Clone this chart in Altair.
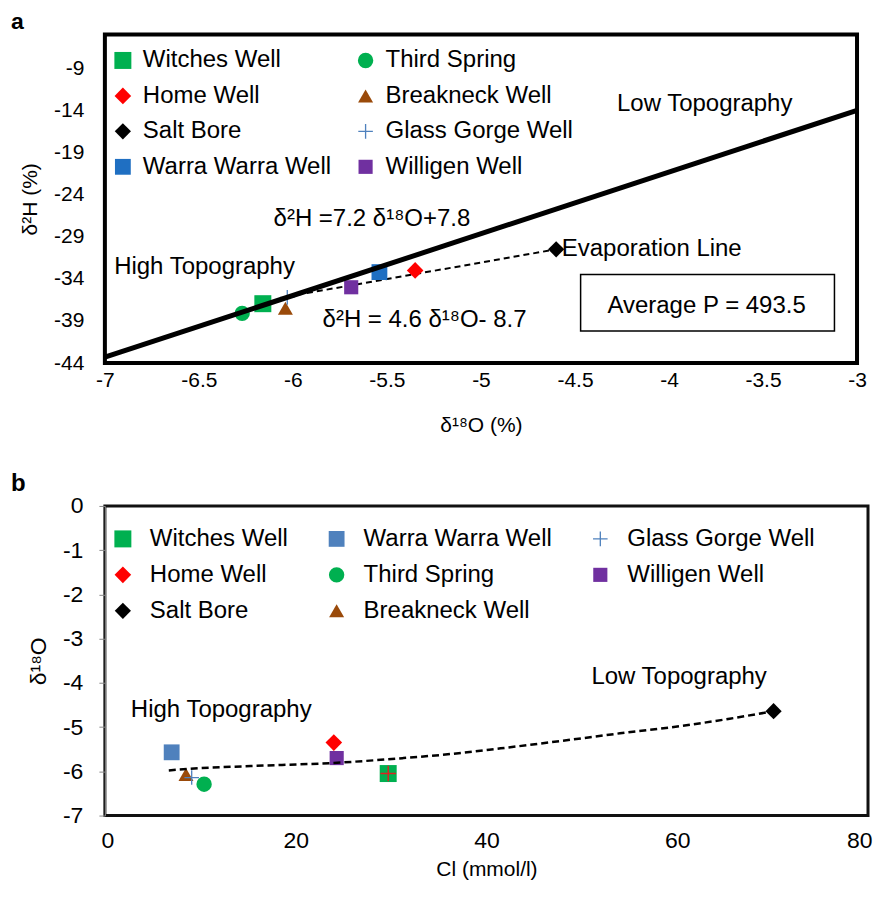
import altair as alt
import pandas as pd

FONT = "Liberation Sans, Arial, Helvetica, sans-serif"

# ---------------- data ----------------
wells = ["Witches Well", "Home Well", "Salt Bore", "Warra Warra Well",
         "Third Spring", "Breakneck Well", "Glass Gorge Well", "Willigen Well"]

# panel a : d18O vs d2H
a_d18o = [-6.16, -5.35, -4.60, -5.54, -6.27, -6.04, -6.03, -5.69]
a_d2h = [-36.95, -33.0, -30.5, -33.2, -38.1, -37.5, -36.2, -35.0]

# panel b : Cl vs d18O
b_cl = [29.7, 24.0, 70.1, 7.0, 10.4, 8.5, 9.1, 24.3]
b_d18o = [-6.05, -5.35, -4.64, -5.57, -6.29, -6.07, -6.14, -5.70]

# lines
mwl_x = [-7.0, -3.0]
mwl_y = [-43.3, -14.0]
evap_x = [-6.03, -4.60]
evap_y = [-36.1, -30.5]
trend_x = [6.7, 9.0, 15.3, 24.0, 31.3, 36.2, 41.5, 51.2, 54.0, 60.6, 65.5, 70.1]
trend_y = [-5.98, -5.94, -5.88, -5.81, -5.70, -5.61, -5.48, -5.22, -5.14, -4.97, -4.81, -4.64]

a_xticks = [-7, -6.5, -6, -5.5, -5, -4.5, -4, -3.5, -3]
a_yticks = [-44, -39, -34, -29, -24, -19, -14, -9]
b_xticks = [0, 20, 40, 60, 80]
b_yticks = [0, -1, -2, -3, -4, -5, -6, -7]

PLUS = "M-1,-0.09H-0.09V-1H0.09V-0.09H1V0.09H0.09V1H-0.09V0.09H-1Z"
shape_of = {"Witches Well": "square", "Home Well": "diamond", "Salt Bore": "diamond",
            "Warra Warra Well": "square", "Third Spring": "circle",
            "Breakneck Well": "triangle-up", "Glass Gorge Well": PLUS, "Willigen Well": "square"}
color_a = {"Witches Well": "#00b050", "Home Well": "#ff0000", "Salt Bore": "#000000",
           "Warra Warra Well": "#1f6fc2", "Third Spring": "#00b050",
           "Breakneck Well": "#9a4a0a", "Glass Gorge Well": "#4f81bd", "Willigen Well": "#7030a0"}
color_b = dict(color_a)
color_b["Warra Warra Well"] = "#4f81bd"
size_of = {"Witches Well": 289, "Home Well": 200, "Salt Bore": 180, "Warra Warra Well": 289,
           "Third Spring": 225, "Breakneck Well": 240, "Glass Gorge Well": 324, "Willigen Well": 289}

df_a = pd.DataFrame({"well": wells, "key": wells, "x": a_d18o, "y": a_d2h})
df_b = pd.DataFrame({"well": wells, "key": wells, "x": b_cl, "y": b_d18o})

LBL = "'' + datum.value"
TXT = 24


def point_layer(df, colors, xs, ys, legend):
    return alt.Chart(df).mark_point(filled=True, opacity=1, strokeWidth=0).encode(
        x=xs, y=ys,
        shape=alt.Shape("well:N", scale=alt.Scale(domain=wells, range=[shape_of[w] for w in wells]),
                        legend=legend),
        color=alt.Color("well:N", scale=alt.Scale(domain=wells, range=[colors[w] for w in wells]),
                        legend=legend),
        size=alt.Size("key:N", scale=alt.Scale(domain=wells, range=[size_of[w] for w in wells]),
                      legend=None),
    )


def panel_letter(letter, dy, fs):
    return alt.Chart(pd.DataFrame({"t": [letter]})).mark_text(
        fontSize=fs, fontWeight="bold", font=FONT, color="black", align="left", baseline="middle"
    ).encode(x=alt.value(-94), y=alt.value(dy), text="t:N")


# ---------------- panel a ----------------
xa = alt.X("x:Q", scale=alt.Scale(domain=[-7, -3], nice=False, zero=False),
           axis=alt.Axis(values=a_xticks, labelExpr=LBL, title="δ¹⁸O (%)", ticks=False,
                         domain=False, grid=False, labelPadding=6, titlePadding=24,
                         labelFlush=False))
ya = alt.Y("y:Q", scale=alt.Scale(domain=[-44, -5], nice=False, zero=False),
           axis=alt.Axis(values=a_yticks, labelExpr=LBL, title="δ²H (%)", ticks=False,
                         domain=False, grid=False, labelPadding=21, titlePadding=13,
                         labelFlush=False))

legend_a = alt.Legend(orient="none", legendX=6, legendY=14, columns=2, title=None,
                      labelFontSize=TXT, symbolSize=144, rowPadding=11.5, columnPadding=22,
                      labelOffset=8, symbolStrokeWidth=0, labelFont=FONT, labelLimit=400)

evap = alt.Chart(pd.DataFrame({"x": evap_x, "y": evap_y})).mark_line(
    color="black", strokeWidth=2, strokeDash=[6, 4]).encode(x=xa, y=ya)
mwl = alt.Chart(pd.DataFrame({"x": mwl_x, "y": mwl_y})).mark_line(
    color="black", strokeWidth=5).encode(x=xa, y=ya)
pts_a = point_layer(df_a, color_a, xa, ya, legend_a)

box_a = alt.Chart(pd.DataFrame({"x": [-4.47], "x2": [-3.12], "y": [-33.5], "y2": [-40.2]})).mark_rect(
    fill="white", stroke="black", strokeWidth=1.5).encode(x=xa, x2="x2", y=ya, y2="y2")

ann_a = pd.DataFrame({
    "x": [-3.81, -5.58, -6.47, -5.30, -3.80],
    "y": [-13.2, -26.9, -32.6, -38.9, -37.2],
    "t": ["Low Topography", "δ²H =7.2 δ¹⁸O+7.8", "High Topography", "δ²H = 4.6 δ¹⁸O- 8.7",
          "Average P = 493.5"]})
txt_a = alt.Chart(ann_a).mark_text(fontSize=TXT, font=FONT, color="black", align="center",
                                   baseline="middle").encode(x=xa, y=ya, text="t:N")
evlab = alt.Chart(pd.DataFrame({"x": [-4.57], "y": [-30.45], "t": ["Evaporation Line"]})).mark_text(
    fontSize=TXT, font=FONT, color="black", align="left", baseline="middle").encode(x=xa, y=ya, text="t:N")

panel_a = alt.layer(evap, pts_a, mwl, box_a, txt_a, evlab, panel_letter("a", -12.5, 23)).properties(
    width=753, height=329,
    view=alt.ViewBackground(stroke="black", strokeWidth=4))

# ---------------- panel b ----------------
xb = alt.X("x:Q", scale=alt.Scale(domain=[0, 80], nice=False, zero=False),
           axis=alt.Axis(values=b_xticks, labelExpr=LBL, title="Cl (mmol/l)", ticks=False,
                         domain=False, grid=False, labelPadding=14, titlePadding=6,
                         labelFlush=True, labelFlushOffset=4, labelFontSize=23, titleFontSize=21))
yb = alt.Y("y:Q", scale=alt.Scale(domain=[-7, 0], nice=False, zero=False),
           axis=alt.Axis(values=b_yticks, labelExpr=LBL, title="δ¹⁸O", ticks=True, tickSize=6,
                         tickColor="#888888", domainColor="#888888", grid=False,
                         labelPadding=16, titlePadding=12, labelFlush=False,
                         labelFontSize=23, titleFontSize=23))

legend_b = alt.Legend(orient="none", legendX=6, legendY=21, columns=3, title=None,
                      labelFontSize=TXT, symbolSize=144, rowPadding=12, columnPadding=36,
                      labelOffset=15, symbolStrokeWidth=0, labelFont=FONT, labelLimit=400)

pts_b = point_layer(df_b, color_b, xb, yb, legend_b)
cross_b = alt.Chart(pd.DataFrame({"x": [b_cl[0]], "y": [b_d18o[0]]})).mark_point(
    filled=True, shape=PLUS, size=240, color="#e02020", opacity=1, strokeWidth=0).encode(x=xb, y=yb)
trend = alt.Chart(pd.DataFrame({"x": trend_x, "y": trend_y})).mark_line(
    color="black", strokeWidth=2.5, strokeDash=[7, 4], interpolate="monotone").encode(x=xb, y=yb)

ann_b = pd.DataFrame({"x": [12.2, 60.2], "y": [-4.61, -3.86],
                      "t": ["High Topography", "Low Topography"]})
txt_b = alt.Chart(ann_b).mark_text(fontSize=TXT, font=FONT, color="black", align="center",
                                   baseline="middle").encode(x=xb, y=yb, text="t:N")

panel_b = alt.layer(pts_b, cross_b, trend, txt_b, panel_letter("b", -22, 24)).properties(
    width=764, height=310,
    view=alt.ViewBackground(stroke="#111111", strokeWidth=3))

chart = alt.vconcat(panel_a, panel_b, spacing=33).resolve_scale(
    color="independent", shape="independent", size="independent", x="independent", y="independent"
).properties(padding={"left": 1, "top": 0, "right": 0, "bottom": 0}).configure_axis(
    labelFont=FONT, titleFont=FONT, labelFontSize=21, titleFontSize=21, labelColor="black",
    titleColor="black", titleFontWeight="normal"
).configure_view(stroke="black")

chart.save("out.html", embed_options={"renderer": "svg", "actions": False})
